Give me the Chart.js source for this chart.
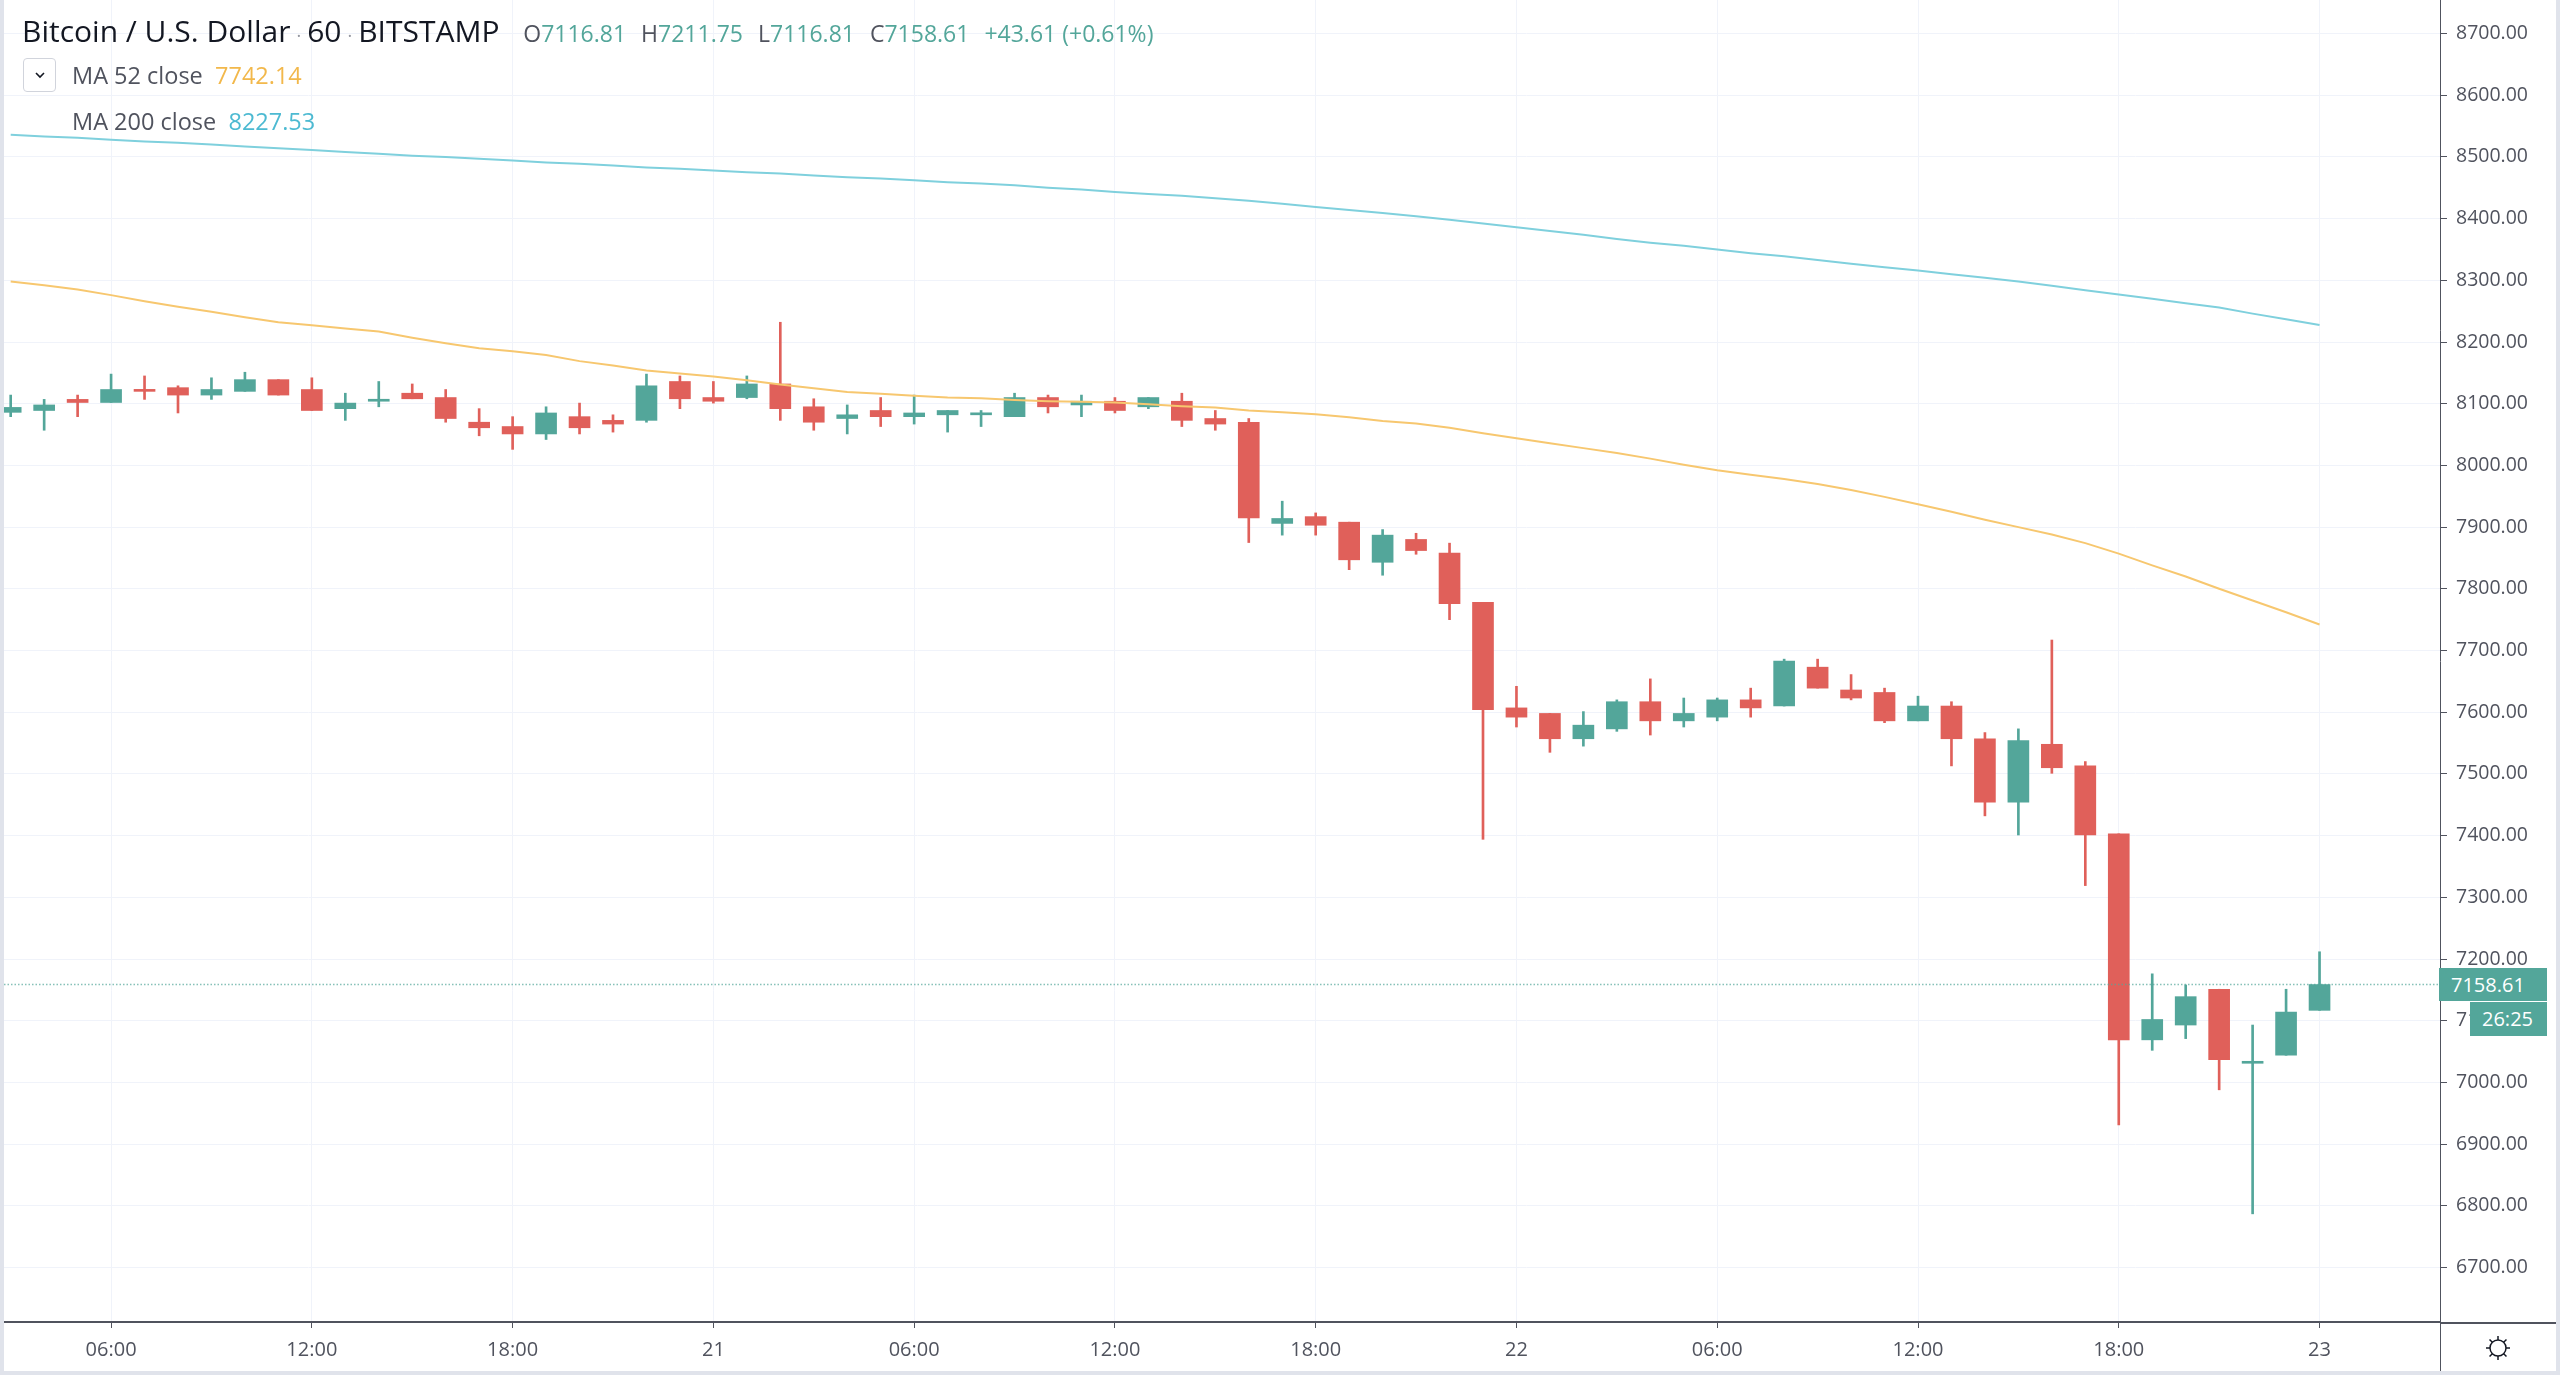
<!DOCTYPE html>
<html>
<head>
<meta charset="utf-8">
<script src="https://cdn.jsdelivr.net/npm/chart.js@4.4.1/dist/chart.umd.min.js"></script>
<style>
html, body { margin: 0; padding: 0; background: #fff; }
#wrap { position: relative; width: 2560px; height: 1375px; overflow: hidden; font-family: "Open Sans", sans-serif; }
#chart { position: absolute; left: 0; top: 0; }
.strip { position: absolute; background: #e0e3eb; }
#title { position: absolute; left: 22px; top: 10px; line-height: 42px; white-space: nowrap; color: #131722; font-size: 30px; }
#title .dot { color: #9598a1; font-size: 18px; margin: 0 6px; }
#title .ohlc { font-size: 23px; margin-left: 16px; }
#title .ohlc > span.g { margin-right: 15px; }
.k { color: #50535e; }
.v { color: #53a69a; }
.leg { position: absolute; left: 72px; line-height: 36px; font-size: 23.5px; color: #50535e; white-space: nowrap; }
#btn { position: absolute; left: 23px; top: 58px; width: 33px; height: 34px; border: 1px solid #d1d4dc; border-radius: 4px; box-sizing: border-box; }
#btn svg { position: absolute; left: 10px; top: 11px; }
.box { position: absolute; background: #53a69a; color: #fff; font-size: 20px; line-height: 33px; height: 33px; box-sizing: border-box; padding-left: 12px; }
</style>
</head>
<body>
<div id="wrap">
  <canvas id="chart" width="2560" height="1375"></canvas>
  <div id="title">
    <span>Bitcoin / U.S. Dollar</span><span class="dot">·</span><span>60</span><span class="dot">·</span><span>BITSTAMP</span>
    <span class="ohlc"><span class="g"><span class="k">O</span><span class="v" id="vo"></span></span><span class="g"><span class="k">H</span><span class="v" id="vh"></span></span><span class="g"><span class="k">L</span><span class="v" id="vl"></span></span><span class="g"><span class="k">C</span><span class="v" id="vc"></span></span><span class="v">+43.61 (+0.61%)</span></span>
  </div>
  <div id="btn"><svg width="12" height="10" viewBox="0 0 12 10"><path d="M2 3 L6 7 L10 3" fill="none" stroke="#131722" stroke-width="1.6"/></svg></div>
  <div class="leg" style="top:57px">MA 52 close&nbsp;&nbsp;<span id="ma52v" style="color:#f2b84b"></span></div>
  <div class="leg" style="top:103px">MA 200 close&nbsp;&nbsp;<span id="ma200v" style="color:#4dbad2"></span></div>
  <div class="box" id="priceBox" style="left:2439px;width:108px"></div>
  <div class="box" id="timeBox" style="left:2470px;width:77px;height:34px">26:25</div>
  <div class="strip" style="left:0;top:0;width:4px;height:1375px"></div>
  <div class="strip" style="left:0;top:1371px;width:2560px;height:4px"></div>
  <div class="strip" style="left:2556px;top:0;width:4px;height:1375px"></div>
</div>
<script>
// hourly bars, BITSTAMP BTC/USD
const times = [
  '20 03:00','20 04:00','20 05:00','20 06:00','20 07:00','20 08:00','20 09:00','20 10:00','20 11:00','20 12:00',
  '20 13:00','20 14:00','20 15:00','20 16:00','20 17:00','20 18:00','20 19:00','20 20:00','20 21:00','20 22:00',
  '20 23:00','21 00:00','21 01:00','21 02:00','21 03:00','21 04:00','21 05:00','21 06:00','21 07:00','21 08:00',
  '21 09:00','21 10:00','21 11:00','21 12:00','21 13:00','21 14:00','21 15:00','21 16:00','21 17:00','21 18:00',
  '21 19:00','21 20:00','21 21:00','21 22:00','21 23:00','22 00:00','22 01:00','22 02:00','22 03:00','22 04:00',
  '22 05:00','22 06:00','22 07:00','22 08:00','22 09:00','22 10:00','22 11:00','22 12:00','22 13:00','22 14:00',
  '22 15:00','22 16:00','22 17:00','22 18:00','22 19:00','22 20:00','22 21:00','22 22:00','22 23:00','23 00:00'
];
const opens = [
  8086, 8089, 8107, 8102, 8123, 8126, 8114, 8120, 8139, 8123,
  8092, 8104, 8117, 8110, 8070, 8063, 8051, 8079, 8073, 8073,
  8136, 8110, 8110, 8132, 8095, 8076, 8089, 8079, 8082, 8082,
  8079, 8110, 8098, 8104, 8095, 8104, 8076, 8070, 7906, 7917,
  7908, 7843, 7880, 7858, 7778, 7607, 7598, 7557, 7573, 7617,
  7586, 7592, 7620, 7610, 7673, 7636, 7632, 7586, 7610, 7557,
  7454, 7548, 7513, 7403, 7069, 7093, 7151, 7031, 7044, 7116.81
];
const highs = [
  8114, 8107, 8114, 8148, 8145, 8129, 8142, 8151, 8139, 8142,
  8117, 8136, 8132, 8123, 8092, 8079, 8095, 8101, 8082, 8148,
  8145, 8136, 8145, 8232, 8108, 8098, 8110, 8114, 8089, 8089,
  8117, 8114, 8114, 8110, 8110, 8117, 8089, 8076, 7942, 7923,
  7908, 7896, 7890, 7874, 7778, 7642, 7598, 7601, 7620, 7654,
  7623, 7623, 7639, 7686, 7686, 7661, 7639, 7626, 7617, 7567,
  7573, 7717, 7520, 7403, 7176, 7158, 7151, 7093, 7151, 7211.75
];
const lows = [
  8079, 8057, 8079, 8102, 8107, 8085, 8107, 8120, 8114, 8089,
  8073, 8095, 8108, 8070, 8048, 8026, 8042, 8051, 8054, 8070,
  8092, 8101, 8108, 8073, 8057, 8051, 8063, 8067, 8054, 8063,
  8079, 8085, 8079, 8085, 8092, 8063, 8057, 7875, 7887, 7887,
  7831, 7822, 7856, 7750, 7394, 7576, 7535, 7545, 7569, 7563,
  7576, 7586, 7592, 7610, 7639, 7620, 7583, 7586, 7513, 7432,
  7401, 7501, 7319, 6931, 7052, 7071, 6988, 6787, 7044, 7116.81
];
const closes = [
  8094, 8098, 8102, 8123, 8120, 8114, 8123, 8139, 8114, 8089,
  8101, 8107, 8108, 8076, 8061, 8051, 8085, 8061, 8067, 8129,
  8108, 8104, 8132, 8092, 8070, 8082, 8079, 8085, 8089, 8085,
  8110, 8095, 8104, 8089, 8110, 8073, 8067, 7915, 7914, 7903,
  7847, 7887, 7862, 7776, 7604, 7592, 7557, 7579, 7617, 7586,
  7598, 7620, 7607, 7683, 7639, 7623, 7586, 7610, 7557, 7454,
  7554, 7510, 7401, 7069, 7102, 7139, 7037, 7034, 7114, 7158.61
];
const ma52 = [
  8298, 8292, 8285, 8276, 8266, 8257, 8249, 8240, 8232, 8227,
  8222, 8217, 8207, 8198, 8190, 8185, 8179, 8169, 8162, 8154,
  8149, 8144, 8138, 8131, 8125, 8119, 8116, 8113, 8110, 8109,
  8106, 8104, 8103, 8102, 8099, 8096, 8094, 8089, 8086, 8083,
  8078, 8072, 8068, 8061, 8052, 8044, 8036, 8028, 8020, 8011,
  8001, 7992, 7985, 7978, 7970, 7960, 7949, 7937, 7925, 7912,
  7900, 7888, 7874, 7857, 7838, 7820, 7800, 7781, 7762, 7742.14
];
const ma200 = [
  8536, 8533, 8531, 8528, 8525, 8523, 8520, 8517, 8514, 8511,
  8508, 8505, 8502, 8500, 8497, 8494, 8491, 8489, 8486, 8483,
  8481, 8478, 8475, 8473, 8470, 8467, 8465, 8462, 8459, 8457,
  8454, 8450, 8447, 8443, 8440, 8437, 8433, 8429, 8424, 8419,
  8414, 8409, 8404, 8398, 8392, 8386, 8380, 8374, 8367, 8361,
  8356, 8350, 8344, 8339, 8333, 8327, 8321, 8316, 8310, 8304,
  8298, 8291, 8284, 8277, 8270, 8263, 8256, 8246, 8237, 8227.53
];
const priceTicks = [6700, 6800, 6900, 7000, 7100, 7200, 7300, 7400, 7500, 7600, 7700,
  7800, 7900, 8000, 8100, 8200, 8300, 8400, 8500, 8600, 8700];
const timeTickHours = ['00:00', '06:00', '12:00', '18:00'];

const upColor = '#53a69a';
const downColor = '#e0605a';
const last = times.length - 1;

function candleColor(i) {
  return closes[i] >= opens[i] ? upColor : downColor;
}
function timeTickLabel(i) {
  const parts = times[i].split(' ');
  return parts[1] === '00:00' ? parts[0] : parts[1];
}
const timeTicks = [];
times.forEach((t, i) => { if (timeTickHours.includes(t.split(' ')[1])) timeTicks.push(i); });

document.getElementById('vo').textContent = opens[last].toFixed(2);
document.getElementById('vh').textContent = highs[last].toFixed(2);
document.getElementById('vl').textContent = lows[last].toFixed(2);
document.getElementById('vc').textContent = closes[last].toFixed(2);
document.getElementById('ma52v').textContent = ma52[last].toFixed(2);
document.getElementById('ma200v').textContent = ma200[last].toFixed(2);
document.getElementById('priceBox').textContent = closes[last].toFixed(2);

const extras = {
  id: 'extras',
  afterDatasetsDraw(chart) {
    const {ctx, chartArea, scales} = chart;
    const y = scales.y.getPixelForValue(closes[last]);
    ctx.save();
    ctx.strokeStyle = 'rgba(83,166,154,0.7)';
    ctx.lineWidth = 1.5;
    ctx.setLineDash([1.5, 2]);
    ctx.beginPath();
    ctx.moveTo(chartArea.left, y);
    ctx.lineTo(chartArea.right, y);
    ctx.stroke();
    ctx.restore();
  },
  afterDraw(chart) {
    const {ctx, chartArea} = chart;
    ctx.save();
    ctx.strokeStyle = '#50535e';
    ctx.lineWidth = 1;
    ctx.beginPath();
    ctx.moveTo(chartArea.right + 0.5, chartArea.bottom);
    ctx.lineTo(chartArea.right + 0.5, 1375);
    ctx.stroke();
    ctx.lineWidth = 2;
    ctx.beginPath();
    ctx.moveTo(chartArea.right, chartArea.bottom + 1);
    ctx.lineTo(2560, chartArea.bottom + 1);
    ctx.stroke();
    // settings icon
    const cx = 2498, cy = 1348;
    ctx.strokeStyle = '#131722';
    ctx.lineWidth = 1.5;
    ctx.beginPath();
    ctx.arc(cx, cy, 8, 0, Math.PI * 2);
    ctx.stroke();
    for (let k = 0; k < 8; k++) {
      const a = k * Math.PI / 4;
      ctx.beginPath();
      ctx.moveTo(cx + Math.cos(a) * 8, cy + Math.sin(a) * 8);
      ctx.lineTo(cx + Math.cos(a) * 12, cy + Math.sin(a) * 12);
      ctx.stroke();
    }
    ctx.restore();
  }
};

Chart.defaults.font.family = "'Open Sans', sans-serif";

const chart = new Chart(document.getElementById('chart'), {
  type: 'bar',
  data: {
    datasets: [
      {
        type: 'line',
        data: ma200.map((v, i) => ({x: i, y: v})),
        borderColor: '#7fd0dd',
        borderWidth: 2,
        pointRadius: 0,
        order: 0
      },
      {
        type: 'line',
        data: ma52.map((v, i) => ({x: i, y: v})),
        borderColor: '#f7c76f',
        borderWidth: 2,
        pointRadius: 0,
        order: 0
      },
      {
        data: times.map((t, i) => ({x: i, y: [opens[i], closes[i]]})),
        backgroundColor: ctx => candleColor(ctx.dataIndex),
        barThickness: 21,
        minBarLength: 2,
        grouped: false,
        order: 1
      },
      {
        data: times.map((t, i) => ({x: i, y: [lows[i], highs[i]]})),
        backgroundColor: ctx => candleColor(ctx.dataIndex),
        barThickness: 2,
        grouped: false,
        order: 2
      }
    ]
  },
  options: {
    responsive: false,
    animation: false,
    events: [],
    layout: { padding: { left: 4, top: 0, right: 0, bottom: 0 } },
    plugins: {
      legend: { display: false },
      tooltip: { enabled: false }
    },
    scales: {
      x: {
        type: 'linear',
        offset: false,
        min: -0.2,
        max: 72.6,
        afterBuildTicks: scale => { scale.ticks = timeTicks.map(v => ({value: v})); },
        afterFit: scale => {
          scale.height = 53;
          scale.paddingLeft = 0;
          scale.paddingRight = 0;
        },
        ticks: {
          callback: v => timeTickLabel(v),
          color: '#50535e',
          font: { size: 20 },
          padding: 10,
          maxRotation: 0,
          autoSkip: false
        },
        grid: { offset: false, color: '#f0f3fa', tickColor: '#50535e', tickLength: 6 },
        border: { display: true, color: '#50535e', width: 2 }
      },
      y: {
        position: 'right',
        min: 6611.7,
        max: 8754.3,
        afterBuildTicks: scale => { scale.ticks = priceTicks.map(v => ({value: v})); },
        afterFit: scale => {
          scale.width = 120;
          scale.paddingTop = 0;
          scale.paddingBottom = 0;
        },
        ticks: {
          callback: v => Number(v).toFixed(2),
          color: '#50535e',
          font: { size: 19.5 },
          padding: 9
        },
        grid: { color: '#f0f3fa', tickColor: '#50535e', tickLength: 7 },
        border: { display: true, color: '#50535e', width: 1 }
      }
    }
  },
  plugins: [extras]
});

const py = chart.scales.y.getPixelForValue(closes[last]);
document.getElementById('priceBox').style.top = (py - 17) + 'px';
document.getElementById('timeBox').style.top = (py + 17) + 'px';
</script>
</body>
</html>
